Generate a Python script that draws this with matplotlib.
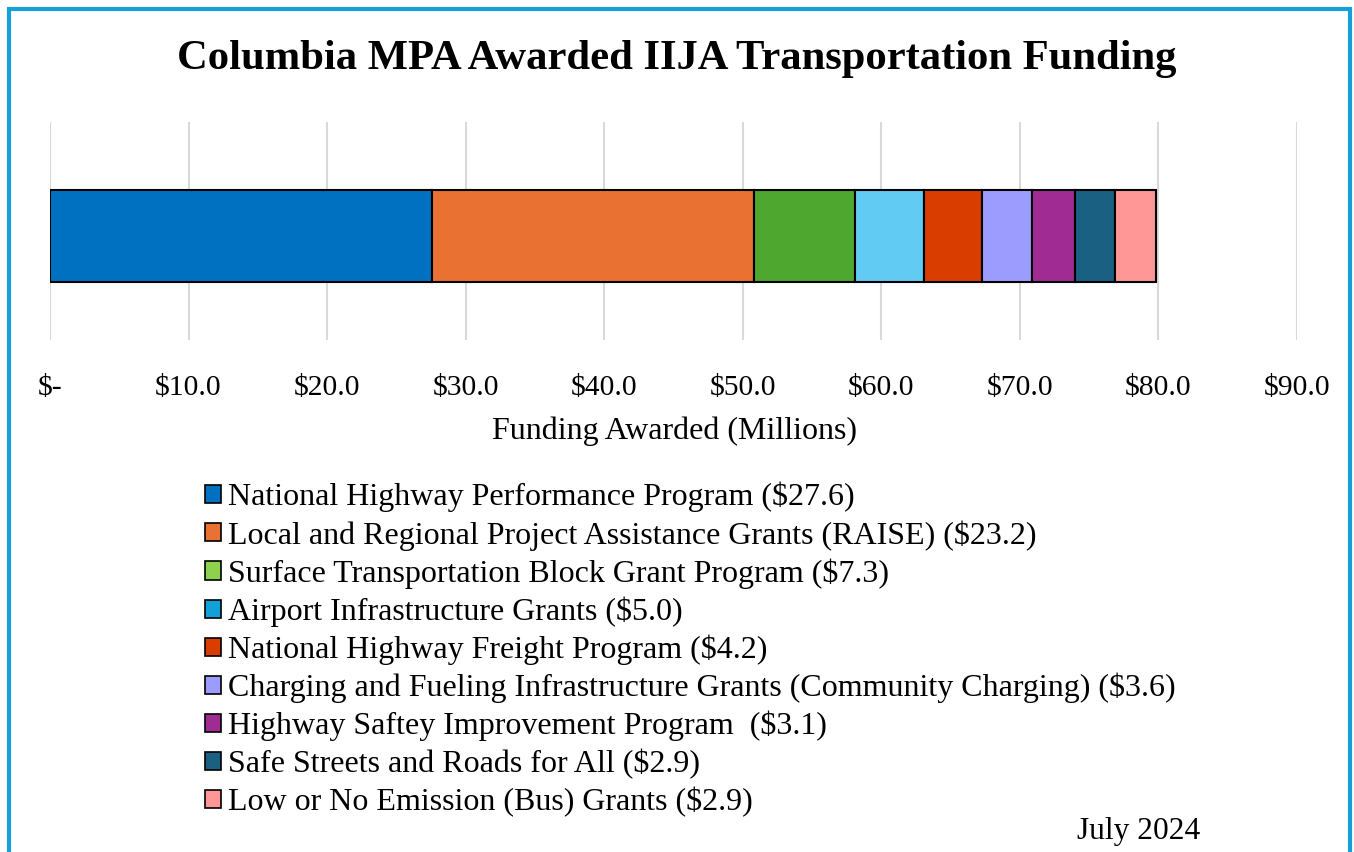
import matplotlib.pyplot as plt
from matplotlib.patches import Patch, Rectangle

programs = ['National Highway Performance Program',
            'Local and Regional Project Assistance Grants (RAISE)',
            'Surface Transportation Block Grant Program',
            'Airport Infrastructure Grants',
            'National Highway Freight Program',
            'Charging and Fueling Infrastructure Grants (Community Charging)',
            'Highway Saftey Improvement Program ',
            'Safe Streets and Roads for All',
            'Low or No Emission (Bus) Grants']
funding = [27.6, 23.2, 7.3, 5.0, 4.2, 3.6, 3.1, 2.9, 2.9]
bar_colors = ['#0070C0', '#E97132', '#4EA72E', '#61CBF4', '#DA3D00',
              '#9C9CFF', '#A02B93', '#196082', '#FF9797']
legend_colors = ['#0070C0', '#E97132', '#8ED14F', '#11A0D7', '#DA3D00',
                 '#9C9CFF', '#A02B93', '#196082', '#FF9797']
xticks = [0, 10, 20, 30, 40, 50, 60, 70, 80, 90]

plt.rcParams['font.family'] = ['Liberation Serif', 'DejaVu Serif']

fig = plt.figure(figsize=(13.54, 8.52), dpi=100)
ax = fig.add_axes([50/1354, 1 - 340/852, (1297 - 50)/1354, 218/852])

left = 0
for val, col in zip(funding, bar_colors):
    ax.barh(0, val, left=left, height=0.844, color=col, edgecolor='black', linewidth=1.5, zorder=3)
    left += val

ax.set_xlim(0, 90)
ax.set_ylim(-0.954, 1.046)
ax.set_yticks([])
ax.set_xticks(xticks)
ax.set_xticklabels(['$-' if t == 0 else '${:.1f}'.format(t) for t in xticks], fontsize=21.3)
ax.tick_params(axis='x', length=0, pad=25)
ax.grid(axis='x', color='#D9D9D9', linewidth=1.5, zorder=0)
for s in ax.spines.values():
    s.set_visible(False)

fig.text(0.5, 1 - 59/852, 'Columbia MPA Awarded IIJA Transportation Funding',
         ha='center', va='center', fontsize=30.7, fontweight='bold')
fig.text(674/1354, 1 - 431/852, 'Funding Awarded (Millions)', ha='center', va='center', fontsize=23)
fig.text(1200/1354, 1 - 832/852, 'July 2024', ha='right', va='center', fontsize=22.6)

handles = [Patch(facecolor=c, edgecolor='black', linewidth=1.2) for c in legend_colors]
labels = ['{} (${:.1f})'.format(p, v) for p, v in zip(programs, funding)]
fig.legend(handles, labels, loc='upper left', bbox_to_anchor=(205/1354, 1 - 482/852),
           frameon=False, fontsize=23, handlelength=0.5, handleheight=0.5,
           handletextpad=0.22, labelspacing=0.24, borderpad=0, borderaxespad=0)

fig.patches.append(Rectangle((8.5/1354, -0.1), (1350 - 8.5)/1354, 1.1 - 8.5/852,
                             transform=fig.transFigure, fill=False,
                             edgecolor='#16A0D8', linewidth=3))

fig.savefig('out.png', dpi=100)
